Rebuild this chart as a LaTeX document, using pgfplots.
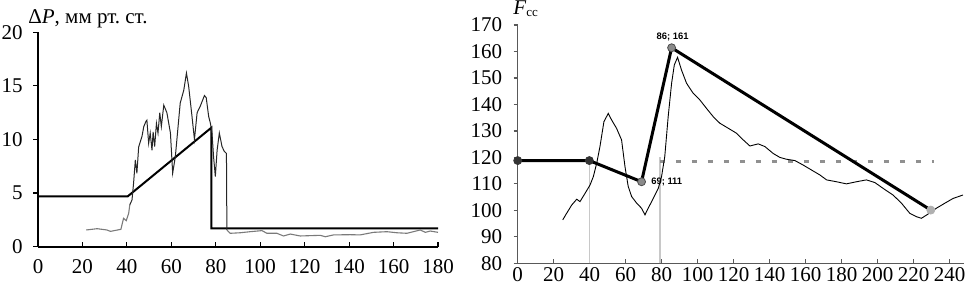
\documentclass[border=0pt]{standalone}
\usepackage{pgfplots}
\pgfplotsset{compat=1.18}
\usepackage{fontspec}
\setmainfont{Liberation Serif}
\newfontfamily\annfont{Liberation Sans}
\definecolor{dgray}{HTML}{333333}
\definecolor{mgray}{HTML}{8A8A8A}
\definecolor{lgray}{HTML}{B0B0B0}
\definecolor{vgray}{HTML}{C8C8C8}
\definecolor{dashgray}{HTML}{909090}
\definecolor{lowgray}{HTML}{7A7A7A}
\frenchspacing
\begin{document}
\begin{tikzpicture}[x=1pt,y=1pt,font=\fontsize{10.5}{12}\selectfont]
\useasboundingbox (0,0) rectangle (484,144);
\pgfplotsset{
  every tick label/.append style={font=\fontsize{10.5}{12}\selectfont},
  /pgf/number format/assume math mode=true,
}
% ---------------- left chart ----------------
\begin{axis}[
  at={(19pt,20.65pt)}, anchor=south west,
  scale only axis, width=200pt, height=107.2pt,
  xmin=0, xmax=180, ymin=0, ymax=20,
  axis x line=bottom, axis y line=left,
  axis line style={-, line width=1pt, black},
  xtick={0,20,...,180}, ytick={0,5,...,20},
  tick align=inside, major tick length=2.5pt,
  tick style={black, line width=0.6pt},
  ytick style={xshift=-2.5pt},
  x tick label style={yshift=-3pt},
  y tick label style={xshift=-4.2pt},
  clip=false,
]
\addplot[black, line width=1pt] coordinates {(0,4.7)(40.4,4.7)(78,11.1)(78,1.7)(180,1.7)};
\addplot[lowgray, line width=0.55pt] coordinates {(21.7,1.56)(26.6,1.68)(31,1.56)(32.6,1.43)(37.3,1.62)(38.5,2.65)(39.7,2.43)(40.8,3.1)(41.3,3.9)};
\addplot[black!85, line width=0.5pt] coordinates {(41.3,3.9)(42.3,4.36)(43,5.9)(43.8,8.1)(44.5,6.85)(45.3,9.3)(46.8,10.3)(47.6,11.2)(48.6,11.7)(49,11.8)(49.8,9.65)(50.5,10.6)(51.3,9.0)(51.8,10.7)(52.5,9.35)(53.3,11.5)(54,10.6)(54.8,12.5)(55.5,11.2)(56.6,13.2)(58,12.5)(59.6,10.6)(60.6,6.85)(61.8,8.4)(64,13.4)(65.6,14.6)(66.8,16.2)(67.8,14.95)(69.3,12.15)(70.4,10.0)(71.6,12.5)(73,13.1)(74.9,14.1)(75.7,13.9)(76.8,12.15)(77.6,11.5)(78.3,10.6)(79,8.4)(79.8,6.55)(80.6,9.0)(81.6,10.6)(82.8,9.35)(83.8,8.9)(84.8,8.7)(85,1.56)};
\addplot[lowgray, line width=0.55pt] coordinates {(85,1.56)(86.5,1.25)(91,1.3)(95.5,1.4)(100.8,1.5)(103,1.25)(107.5,1.25)(110.5,1.0)(113.5,1.18)(118,1.0)(127,1.06)(129.3,0.93)(133,1.1)(140.5,1.12)(145,1.1)(151,1.34)(157,1.4)(161.5,1.3)(166,1.25)(172,1.56)(174.3,1.34)(176.5,1.46)(180,1.34)};
\end{axis}
% ---------------- right chart ----------------
\begin{axis}[
  at={(258.85pt,12.35pt)}, anchor=south west,
  scale only axis, width=223.2pt, height=119.15pt,
  xmin=0, xmax=248, ymin=80, ymax=170,
  axis x line=bottom, axis y line=left,
  axis line style={-, line width=0.7pt, black!65},
  xtick={0,20,...,240}, ytick={80,90,...,170},
  tick align=inside, major tick length=2pt,
  tick style={black!65, line width=0.6pt},
  ytick style={xshift=-2pt},
  x tick label style={yshift=0pt, inner sep=2pt},
  y tick label style={xshift=-4.2pt},
  clip=false,
]
\addplot[vgray, line width=0.6pt] coordinates {(40,80)(40,119)};
\addplot[vgray, line width=0.6pt] coordinates {(79,80)(79,120)};
\addplot[dashgray, line width=1.5pt, dash pattern=on 2.7pt off 5.3pt] coordinates {(79,118.6)(231,118.6)};
\addplot[black, line width=0.45pt] coordinates {(25,96.4)(27.2,98.9)(30,102)(32.8,104.2)(34.6,103.3)(37.4,106.4)(40.2,109.6)(42,112.7)(43.9,117.8)(45.7,124.1)(47.9,133.5)(50.3,136.6)(52.2,134.1)(54.9,131)(57.7,126.6)(59.6,116.5)(61.4,109)(63.3,105.2)(66.1,102.7)(68.8,100.8)(70.7,98.3)(72.5,100.8)(75.3,104.5)(78.1,108.3)(79.9,112.7)(81.7,120.3)(83.6,135.4)(85.5,148)(87,154.9)(88.8,157.8)(91,153)(93.8,148)(97.5,144.2)(101.2,141.7)(104.9,138.5)(108.6,135.4)(112.3,132.9)(117,131)(121.6,129.1)(125.3,126.6)(129,124.3)(133.6,125.1)(137.3,124.1)(141.9,121.5)(145.6,120)(149.3,119.3)(154,118.8)(158.6,117.1)(163.3,115.2)(167.8,113.4)(171.6,111.5)(177.1,110.8)(182.6,110)(188.2,110.8)(193.7,111.5)(198.4,110.5)(203,108.3)(208.5,105.8)(213.2,102.7)(217.8,98.9)(221.5,97.6)(224.3,97)(228,98.6)(232.6,100.8)(237.3,102.7)(241.9,104.5)(247.4,105.8)};
\addplot[black, line width=1.5pt] coordinates {(0,118.8)(39.8,118.8)(68.8,110.8)(85.5,161.4)(229.5,100.1)};
\addplot[only marks, mark=*, mark size=2pt, mark options={fill=dgray, draw=dgray}] coordinates {(0,118.8)(39.8,118.8)};
\addplot[only marks, mark=*, mark size=2pt, mark options={fill=mgray, draw=black!70, line width=0.4pt}] coordinates {(68.8,110.8)(85.5,161.4)};
\addplot[only marks, mark=*, mark size=2pt, mark options={fill=lgray, draw=lgray}] coordinates {(229.5,100.1)};
\node[font={\annfont\fontsize{4.7}{5.5}\selectfont\bfseries}] at (axis cs:86.1,165.6) {86; 161};
\node[font={\annfont\fontsize{4.7}{5.5}\selectfont\bfseries}] at (axis cs:82.8,110.8) {69; 111};
\end{axis}
\node[anchor=base west, inner sep=0pt] at (14,132) {Δ\textit{P}, мм рт. ст.};
\node[anchor=base west, inner sep=0pt] at (256.5,136.5) {\textit{F}\raisebox{-1pt}{\fontsize{6.5}{7}\selectfont сс}};
\end{tikzpicture}
\end{document}
